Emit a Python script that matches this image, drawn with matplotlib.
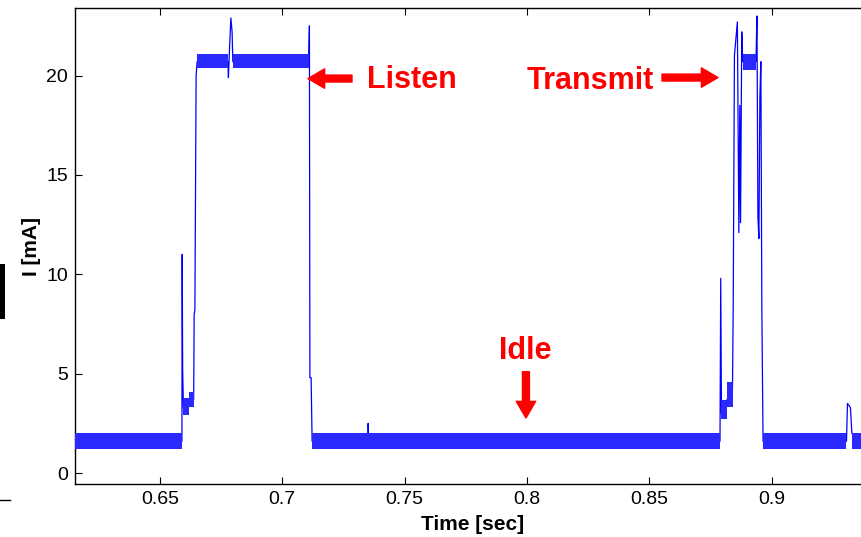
import matplotlib
matplotlib.use('Agg')
import matplotlib.pyplot as plt
from matplotlib.patches import Rectangle
from matplotlib.lines import Line2D

plt.rcParams['font.family'] = ['Liberation Sans', 'DejaVu Sans']

# corrente medida (linha principal, degraus e picos)
t_trace = [0.6153, 0.6590, 0.6591, 0.6593, 0.6596, 0.6620, 0.6638, 0.6640, 0.6643,
           0.6648, 0.6652, 0.6778, 0.6780, 0.6785, 0.6790, 0.6795, 0.6798,
           0.7108, 0.7111, 0.7113, 0.7118, 0.7122, 0.7350, 0.7351, 0.7353,
           0.8789, 0.8792, 0.8795, 0.8810, 0.8830, 0.8840, 0.8843, 0.8848,
           0.8855, 0.8860, 0.8866, 0.8870, 0.8873, 0.8878, 0.8882, 0.8936,
           0.8940, 0.8944, 0.8948, 0.8952, 0.8956, 0.8960, 0.8965,
           0.9306, 0.9310, 0.9322, 0.9328, 0.9365]
i_trace = [1.6, 1.6, 11.0, 5.2, 3.3, 3.6, 3.7, 8.0, 8.2,
           20.0, 20.7, 20.7, 19.9, 21.5, 22.9, 22.2, 20.7,
           20.7, 22.5, 4.8, 4.8, 1.6, 1.6, 2.5, 1.6,
           1.6, 9.8, 3.0, 3.5, 4.0, 4.2, 8.4, 21.0,
           22.0, 22.7, 12.1, 18.5, 12.6, 22.2, 20.7, 20.7,
           23.0, 12.9, 11.8, 18.9, 20.7, 8.3, 1.6,
           1.6, 3.5, 3.3, 2.0, 1.6]

# faixas de ruido (inicio, fim, minimo, maximo)
band_t0 = [0.6153, 0.6596, 0.6620, 0.6650, 0.6798, 0.7122, 0.8795, 0.8818, 0.8883, 0.8965, 0.9330]
band_t1 = [0.6590, 0.6620, 0.6638, 0.6778, 0.7110, 0.8789, 0.8818, 0.8842, 0.8936, 0.9306, 0.9365]
band_lo = [1.2, 2.9, 3.3, 20.4, 20.4, 1.2, 2.7, 3.3, 20.3, 1.2, 1.2]
band_hi = [2.0, 3.8, 4.1, 21.1, 21.1, 2.0, 3.7, 4.6, 21.1, 2.0, 2.0]

x_ticks = [0.65, 0.7, 0.75, 0.8, 0.85, 0.9]
y_ticks = [0, 5, 10, 15, 20]

fig = plt.figure(figsize=(8.61, 5.37), dpi=100)
ax = fig.add_axes([75 / 861, 53 / 537, 794.5 / 861, 476 / 537])

ax.plot(t_trace, i_trace, color='#0000ff', linewidth=0.9, zorder=2)
for t0, t1, lo, hi in zip(band_t0, band_t1, band_lo, band_hi):
    ax.fill_between([t0, t1], [lo, lo], [hi, hi], color='#2a2aff', linewidth=0, zorder=3)

ax.set_xlim(0.6153, 0.94)
ax.set_ylim(-0.55, 23.4)
ax.set_xticks(x_ticks)
ax.set_xticklabels(['0.65', '0.7', '0.75', '0.8', '0.85', '0.9'])
ax.set_yticks(y_ticks)
ax.tick_params(direction='in', top=True, right=True, length=5, width=0.8, labelsize=14, pad=5)
for s in ax.spines.values():
    s.set_linewidth(1.0)

ax.set_xlabel('Time [sec]', fontsize=15, fontweight='bold', labelpad=5)
ax.set_ylabel('I [mA]', fontsize=15, fontweight='bold', labelpad=4)

# anotacoes
seta = dict(facecolor='#ff0000', edgecolor='#ff0000', width=5, headwidth=14, headlength=12, shrink=0)
ax.annotate('', xy=(0.7105, 19.85), xytext=(0.7285, 19.85), arrowprops=seta)
ax.text(0.7346, 19.8, 'Listen', color='#ff0000', fontsize=22, fontweight='bold', ha='left', va='center')
ax.annotate('', xy=(0.8781, 19.9), xytext=(0.8552, 19.9), arrowprops=seta)
ax.text(0.8519, 19.75, 'Transmit', color='#ff0000', fontsize=22, fontweight='bold', ha='right', va='center')
ax.annotate('', xy=(0.7996, 2.77), xytext=(0.7996, 5.1), arrowprops=seta)
ax.text(0.7992, 6.15, 'Idle', color='#ff0000', fontsize=22, fontweight='bold', ha='center', va='center')

# restos do recorte original
fig.patches.append(Rectangle((0, 1 - 319 / 537), 5 / 861, 55 / 537, transform=fig.transFigure,
                             facecolor='black', edgecolor='none'))
fig.lines.append(Line2D([0, 10 / 861], [1 - 500 / 537, 1 - 500 / 537], transform=fig.transFigure,
                        color='black', linewidth=1))

fig.savefig('out.png', dpi=100)
